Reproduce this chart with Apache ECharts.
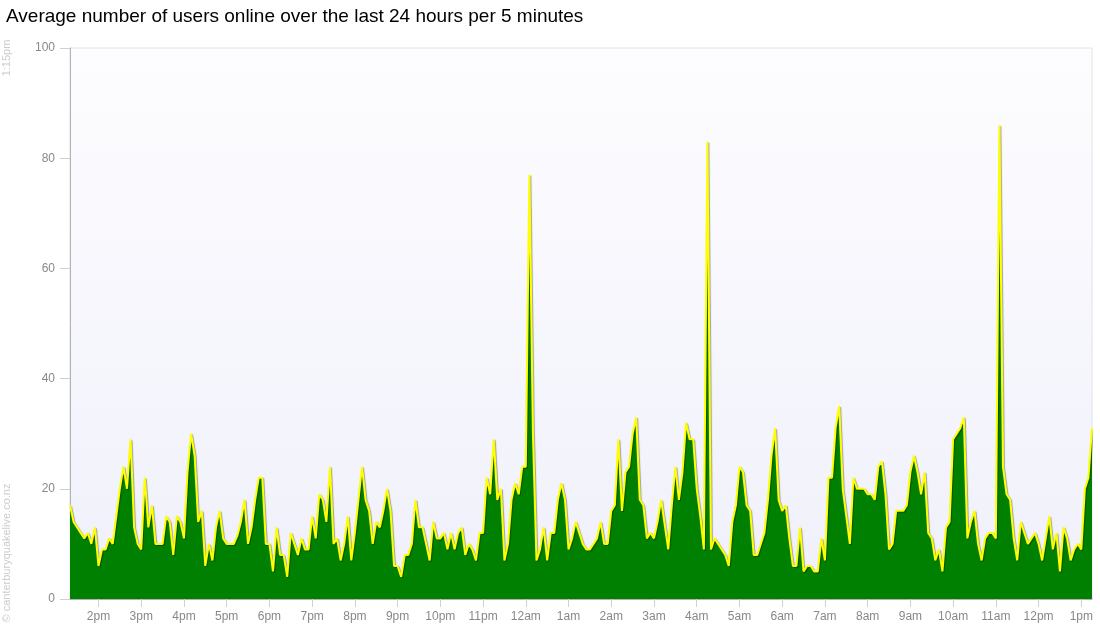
<!DOCTYPE html>
<html>
<head>
<meta charset="utf-8">
<title>Users online</title>
<script src="https://cdn.jsdelivr.net/npm/echarts@6/dist/echarts.min.js"></script>
<style>
  html, body { margin: 0; padding: 0; background: #fff; }
  #main { width: 1100px; height: 640px; }
</style>
</head>
<body>
<div id="main"></div>
<script>
// average users online, one value per 5 minutes, 1:20pm .. 1:15pm next day
var usersOnline = [
    17, 14, 13, 12, 11, 12, 10, 13, 6, 9, 9, 11, 10, 15, 20, 24, 20, 29, 13, 10,
    9, 22, 13, 17, 10, 10, 10, 15, 14, 8, 15, 14, 11, 23, 30, 26, 14, 16, 6, 10,
    7, 13, 16, 11, 10, 10, 10, 11.5, 14, 18, 10, 13, 18, 22, 22, 10, 10, 5, 13, 8,
    8, 4, 12, 10, 8, 11, 9, 9, 15, 11, 19, 18, 14, 24, 10, 11, 7, 10, 15, 7,
    12, 18, 24, 18, 16, 10, 14, 13, 16, 20, 16, 6, 6, 4, 8, 8, 10, 18, 13, 13,
    10, 7, 14, 11, 11, 12, 9, 12, 9, 12, 13, 8, 10, 9, 7, 12, 12, 22, 19, 29,
    18, 20, 7, 10, 18, 21, 19, 24, 24, 77, 30, 7, 9, 13, 7, 12, 12, 18, 21, 18,
    9, 11, 14, 12, 10, 9, 9, 10, 11, 14, 10, 10, 16, 17, 29, 16, 23, 24, 30, 33,
    18, 17, 11, 12, 11, 14, 18, 13.5, 9, 17, 24, 18, 23, 32, 29, 29, 20, 15, 9, 83,
    9, 11, 10, 9, 8, 6, 14, 17, 24, 23, 17, 16, 8, 8, 10, 12, 18, 26, 31, 18,
    16, 17, 11, 6, 6, 13, 5, 6, 6, 5, 5, 11, 7, 22, 22, 31, 35, 20, 15, 10,
    22, 20, 20, 20, 19, 19, 18, 24, 25, 19, 9, 10, 16, 16, 16, 17, 23, 26, 23, 19,
    23, 12, 11, 7, 9, 5, 13, 14, 29, 30, 31, 33, 11, 14, 16, 10, 7, 11, 12, 12,
    11, 86, 24, 19, 18, 11, 7, 14, 12, 10, 11, 12, 10, 7, 11, 15, 9, 12, 5, 13,
    11, 7, 9, 10, 9, 20, 22, 31
];

// labels shown on the hour
var hourLabels = ['2pm', '3pm', '4pm', '5pm', '6pm', '7pm', '8pm', '9pm', '10pm', '11pm', '12am', '1am',
    '2am', '3am', '4am', '5am', '6am', '7am', '8am', '9am', '10am', '11am', '12pm', '1pm'];

var yTicks = [0, 20, 40, 60, 80, 100];

// category per 5 minute slot, first slot is 1:20pm
var slots = [];
var startMinutes = 13 * 60 + 20;
for (var i = 0; i < usersOnline.length; i++) {
    var m = (startMinutes + i * 5) % (24 * 60);
    var h = Math.floor(m / 60), mm = m % 60;
    var h12 = h % 12 == 0 ? 12 : h % 12;
    slots.push(h12 + ':' + (mm < 10 ? '0' : '') + mm + (h < 12 ? 'am' : 'pm'));
}

function onHour(index) {
    return slots[index].indexOf(':00') > 0;
}

var myChart = echarts.init(document.getElementById('main'));

var option = {
    animation: false,
    backgroundColor: '#fff',
    textStyle: { fontFamily: 'Liberation Sans, Arial, sans-serif' },
    title: {
        text: 'Average number of users online over the last 24 hours per 5 minutes',
        left: 1,
        top: 2,
        textStyle: { fontSize: 19, fontWeight: 'normal', color: '#000' }
    },
    graphic: [
        {
            type: 'text', x: 7, y: 58, rotation: Math.PI / 2,
            style: { text: '1:15pm', fill: '#ccc', fontSize: 11, align: 'center', verticalAlign: 'middle',
                fontFamily: 'Liberation Sans, Arial, sans-serif' }
        },
        {
            type: 'text', x: 7, y: 553, rotation: Math.PI / 2,
            style: { text: '\u00a9 canterburyquakelive.co.nz', fill: '#ccc', fontSize: 11, align: 'center', verticalAlign: 'middle',
                fontFamily: 'Liberation Sans, Arial, sans-serif' }
        }
    ],
    grid: {
        left: 70,
        right: 8,
        top: 48,
        bottom: 41,
        show: true,
        borderColor: '#e2e2e8',
        borderWidth: 1,
        backgroundColor: new echarts.graphic.LinearGradient(0, 0, 0, 1, [
            { offset: 0, color: '#fdfdff' },
            { offset: 1, color: '#f0f0fb' }
        ])
    },
    xAxis: {
        type: 'category',
        boundaryGap: false,
        data: slots,
        axisLine: { lineStyle: { color: '#b0b0b8' } },
        axisTick: { length: 8, interval: function (index) { return onHour(index); }, lineStyle: { color: '#d0d0d0' } },
        axisLabel: {
            color: '#888',
            fontSize: 12,
            margin: 12,
            interval: function (index) { return onHour(index); },
            formatter: function (value, index) {
                return hourLabels[Math.floor((index - 8) / 12)];
            }
        }
    },
    yAxis: {
        type: 'value',
        min: yTicks[0],
        max: yTicks[yTicks.length - 1],
        interval: yTicks[1] - yTicks[0],
        axisLine: { show: true, lineStyle: { color: '#b0b0b8' } },
        axisTick: { show: true, length: 10, lineStyle: { color: '#d0d0d0' } },
        axisLabel: { color: '#888', fontSize: 12, margin: 15 },
        splitLine: { show: false }
    },
    series: [
        {
            type: 'line',
            data: usersOnline,
            symbol: 'none',
            lineStyle: {
                color: '#ffff00',
                width: 2,
                shadowColor: 'rgba(0,0,0,0.35)',
                shadowBlur: 1,
                shadowOffsetX: 1,
                shadowOffsetY: 1
            },
            areaStyle: { color: '#008000', opacity: 1 }
        }
    ]
};

myChart.setOption(option);
</script>
</body>
</html>
